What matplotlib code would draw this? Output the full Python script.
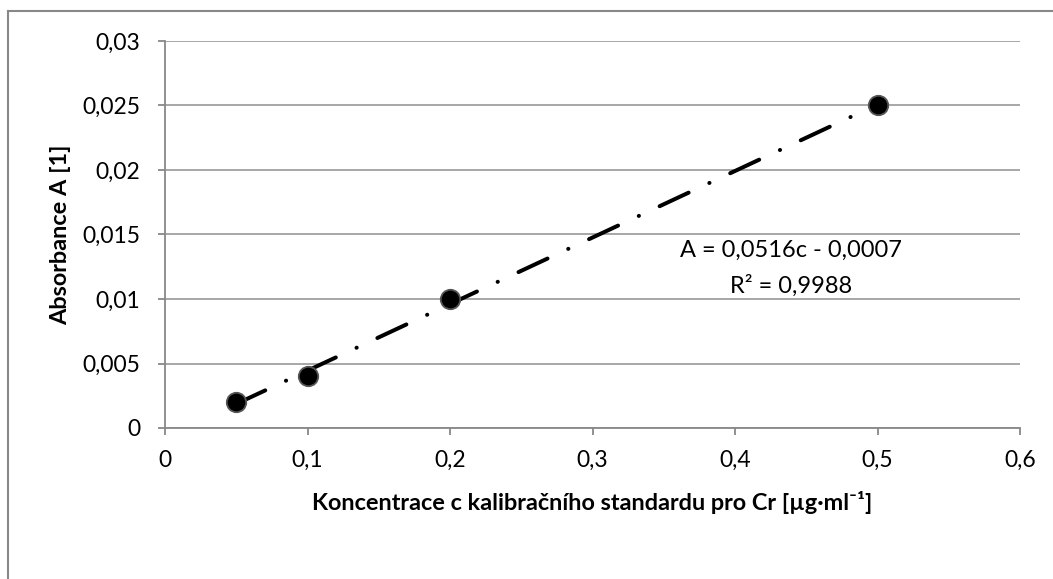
import numpy as np
import matplotlib
matplotlib.use("Agg")
import matplotlib.pyplot as plt
from matplotlib.lines import Line2D

conc = [0.05, 0.1, 0.2, 0.5]
absorb = [0.002, 0.004, 0.010, 0.025]
xticks = [0, 0.1, 0.2, 0.3, 0.4, 0.5, 0.6]
xticklabels = ["0", "0,1", "0,2", "0,3", "0,4", "0,5", "0,6"]
yticks = [0, 0.005, 0.01, 0.015, 0.02, 0.025, 0.03]
yticklabels = ["0", "0,005", "0,01", "0,015", "0,02", "0,025", "0,03"]
xlabel = "Koncentrace c kalibračního standardu pro Cr [µg·ml⁻¹]"
ylabel = "Absorbance A [1]"
eq_line1 = "A = 0,0516c - 0,0007"
eq_line2 = "R² = 0,9988"

plt.rcParams['font.family'] = ['Lato', 'DejaVu Sans']

W, H = 1053, 579
fig = plt.figure(figsize=(W/100, H/100), dpi=100)
ax = fig.add_axes([165/W, 1-428/H, (1020-165)/W, (428-41)/H])

# trendline
k, q = np.polyfit(conc, absorb, 1)
xt = np.array([min(conc), max(conc)])
ax.plot(xt, k*xt + q, color='black', lw=2.88, dashes=(8, 5.71, 0.05, 5.71),
        dash_capstyle='round', solid_capstyle='round', zorder=3)
ax.plot(conc, absorb, 'o', ms=14, mfc='black', mec='#555555', mew=1.3, zorder=4)

ax.set_xlim(0, 0.6)
ax.set_ylim(0, 0.03)
ax.set_xticks(xticks)
ax.set_xticklabels(xticklabels)
ax.set_yticks(yticks)
ax.set_yticklabels(yticklabels)
ax.grid(axis='y', color='#a0a0a0', lw=1.3)
ax.set_axisbelow(True)
for s in ['top', 'right']:
    ax.spines[s].set_visible(False)
for s in ['left', 'bottom']:
    ax.spines[s].set_color('#888888')
    ax.spines[s].set_linewidth(1.3)
ax.tick_params(axis='both', direction='out', length=5, width=1.3, color='#888888',
               labelsize=16.5, labelcolor='black')
ax.tick_params(axis='y', pad=13)
ax.tick_params(axis='x', pad=11)

ax.set_xlabel(xlabel, fontsize=16.9, fontweight='bold', labelpad=14)
ax.set_ylabel(ylabel, fontsize=16.9, fontweight='bold', labelpad=8)

ax.text(0.4393, 0.01376, eq_line1, ha='center', va='center', fontsize=17)
ax.text(0.4393, 0.01105, eq_line2, ha='center', va='center', fontsize=17)

# outer border
fig.add_artist(Line2D([7.5/W, 7.5/W], [0, 1-11/H], transform=fig.transFigure,
                      color='#888888', lw=1.5))
fig.add_artist(Line2D([7.5/W, 1], [1-11/H, 1-11/H], transform=fig.transFigure,
                      color='#888888', lw=1.5))

fig.savefig("out.png", dpi=100)
